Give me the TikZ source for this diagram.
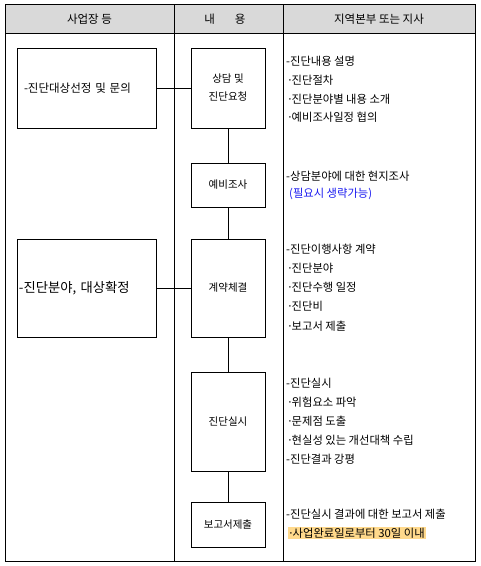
\documentclass[tikz,border=0pt]{standalone}
\usepackage{fontspec}
\setmainfont{Noto Sans CJK KR}
\definecolor{hdrgray}{HTML}{D9D9D9}
\definecolor{hilite}{HTML}{FFD98C}
\definecolor{noteblue}{HTML}{1A1AF0}
\newcommand\mdot{\makebox[3.5pt][c]{·}}
\begin{document}
\begin{tikzpicture}[x=1pt,y=-1pt,
  tbl/.style={line width=1pt,draw=black},
  flowbox/.style={draw=black,line width=0.8pt,inner sep=0pt,align=center,font=\fontsize{10.5}{18}\selectfont},
  hdr/.style={font=\fontsize{11.5}{12}\selectfont,inner sep=0pt},
  item/.style={anchor=west,inner sep=0pt,font=\fontsize{11.3}{12}\selectfont},
  link/.style={line width=0.8pt,draw=black}]
\useasboundingbox (0,0) rectangle (481,566);
% table
\fill[hdrgray] (5,4) rectangle (475,33);
\draw[tbl] (5,4) rectangle (475,561);
\draw[tbl] (5,33) -- (475,33);
\draw[tbl] (174,4) -- (174,561);
\draw[tbl] (283,4) -- (283,561);
\node[hdr] (h1) at (89.5,19) {사업장 등};
\node[hdr] (h2) at (225,19) {내\hspace{20pt}용};
\node[hdr] (h3) at (379,19) {지역본부 또는 지사};
% left boxes
\node[flowbox,minimum width=139pt,minimum height=80pt,text width=125pt,inner xsep=7pt,align=left,font=\fontsize{11.5}{14}\selectfont] (l1) at (86.5,88) {-진단대상선정 및 문의};
\node[flowbox,minimum width=139pt,minimum height=98pt,text width=135pt,inner xsep=2pt,align=left,font=\fontsize{13.3}{15}\selectfont] (l2) at (86.5,288) {-진단분야, 대상확정};
% middle boxes
\node[flowbox,minimum width=74pt,minimum height=80pt] (m1) at (228,88) {상담 및\\진단요청};
\node[flowbox,minimum width=74pt,minimum height=44pt] (m2) at (228,185) {예비조사};
\node[flowbox,minimum width=74pt,minimum height=98pt] (m3) at (228,288) {계약체결};
\node[flowbox,minimum width=74pt,minimum height=99pt] (m4) at (228,421.5) {진단실시};
\node[flowbox,minimum width=74pt,minimum height=45pt] (m5) at (228,524.5) {보고서제출};
% connectors
\draw[link] (l1.east) -- (m1.west);
\draw[link] (l2.east) -- (m3.west);
\draw[link] (m1) -- (m2);
\draw[link] (m2) -- (m3);
\draw[link] (m3) -- (m4);
\draw[link] (m4) -- (m5);
% right column
\node[item] (r1) at (286,61) {-진단내용 설명};
\node[item] (r2) at (288,80) {\mdot 진단절차};
\node[item] (r3) at (288,99) {\mdot 진단분야별 내용 소개};
\node[item] (r4) at (288,117) {\mdot 예비조사일정 협의};
\node[item] (r5) at (286,176) {-상담분야에 대한 현지조사};
\node[item,text=noteblue] (r6) at (289,194) {(필요시 생략가능)};
\node[item] (r7) at (286,249) {-진단이행사항 계약};
\node[item] (r8) at (288,268) {\mdot 진단분야};
\node[item] (r9) at (288,287) {\mdot 진단수행 일정};
\node[item] (r10) at (288,306) {\mdot 진단비};
\node[item] (r11) at (288,326) {\mdot 보고서 제출};
\node[item] (r12) at (286,383) {-진단실시};
\node[item] (r13) at (288,402) {\mdot 위험요소 파악};
\node[item] (r14) at (288,421) {\mdot 문제점 도출};
\node[item] (r15) at (288,440) {\mdot 현실성 있는 개선대책 수립};
\node[item] (r16) at (286,459) {-진단결과 강평};
\node[item] (r17) at (286,514) {-진단실시 결과에 대한 보고서 제출};
\node[item,fill=hilite,inner xsep=1pt,inner ysep=0.5pt] (r18) at (288,533) {\mdot 사업완료일로부터 30일 이내};
\end{tikzpicture}
\end{document}
